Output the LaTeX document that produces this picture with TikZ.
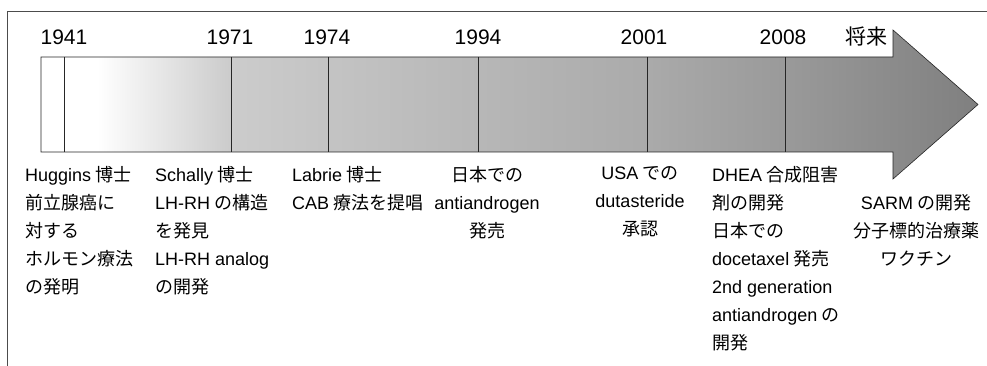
\documentclass[tikz,border=0pt]{standalone}
\usepackage{fontspec}
\setmainfont{Liberation Sans}
\newfontfamily\jp{Noto Sans CJK JP}
\newcommand{\lat}[1]{{\rmfamily #1}}
\pgfdeclarehorizontalshading{timeshade}{100bp}{color(0bp)=(white); color(28bp)=(white);
  color(35bp)=(black!20); color(48bp)=(black!28); color(57bp)=(black!33);
  color(65bp)=(black!40); color(75bp)=(black!50); color(100bp)=(black!50)}
\begin{document}
\begin{tikzpicture}[x=1pt, y=-1pt, thin,
	year/.style = {anchor=base, inner sep=0, font=\fontsize{21}{21}\selectfont},
	event/.style = {anchor=north west, align=left, inner sep=0, font=\fontsize{18}{28}\selectfont\jp},
	eventc/.style = {event, anchor=north, align=center}]
	\useasboundingbox (0,0) rectangle (987,366);
	% frame
	\draw[black!70, line width=0.8pt] (987,11) -- (7,11) -- (7,366);
	% time arrow
	\shade[shading=timeshade, draw=black!85, line width=0.6pt]
		(41,57) -- (893,57) -- (893,30) -- (978,104.5) -- (893,179) -- (893,152) -- (41,152) -- cycle;
	\foreach \x in {64,231,328,478,647,785}
		\draw[black!85, line width=0.6pt] (\x,57) -- (\x,152);
	% years
	\node[year] (y1) at (64,45) {1941};
	\node[year] (y2) at (230,45) {1971};
	\node[year] (y3) at (327,45) {1974};
	\node[year] (y4) at (478,45) {1994};
	\node[year] (y5) at (644,45) {2001};
	\node[year] (y6) at (783,45) {2008};
	\node[year] (y7) at (866,45) {\jp 将来};
	% events
	\node[event] (e1) at (25,166) {\lat{Huggins} 博士\\前立腺癌に\\対する\\ホルモン療法\\の発明};
	\node[event] (e2) at (155,166) {\lat{Schally} 博士\\\lat{LH-RH} の構造\\を発見\\\lat{LH-RH analog}\\の開発};
	\node[event] (e3) at (292,166) {\lat{Labrie} 博士\\\lat{CAB} 療法を提唱};
	\node[eventc] (e4) at (487,166) {日本での\\\lat{antiandrogen}\\発売};
	\node[eventc] (e5) at (640,166) {\lat{USA} での\\\lat{dutasteride}\\承認};
	\node[event] (e6) at (712,166) {\lat{DHEA} 合成阻害\\剤の開発\\日本での\\\lat{docetaxel} 発売\\\lat{2nd generation}\\\lat{antiandrogen} の\\開発};
	\node[eventc] (e7) at (916,194) {\lat{SARM} の開発\\分子標的治療薬\\ワクチン};
\end{tikzpicture}
\end{document}
